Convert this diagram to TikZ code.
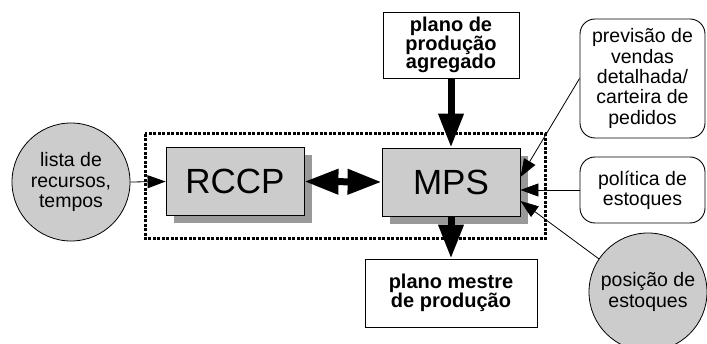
\documentclass[tikz,border=0pt]{standalone}
\usepackage{fontspec}
\setmainfont{Liberation Sans}
\usetikzlibrary{arrows.meta,shadows}
\definecolor{boxgray}{HTML}{CCCCCC}
\definecolor{shadgray}{HTML}{999999}
\tikzset{
  txt/.style={align=center,font=\fontsize{19.5}{20.3}\selectfont,inner sep=0pt},
  btxt/.style={align=center,font=\fontsize{20}{18.8}\selectfont\bfseries,inner sep=0pt},
  greycirc/.style={circle,draw,line width=0.8pt,fill=boxgray,minimum size=118pt,txt},
  procbox/.style={rectangle,draw,line width=0.9pt,fill=boxgray,minimum width=138pt,minimum height=68pt,
    inner sep=0pt,font=\fontsize{35}{36}\selectfont,
    drop shadow={shadow xshift=8pt,shadow yshift=-8pt,fill=shadgray,opacity=1}},
  plainbox/.style={rectangle,draw,line width=0.9pt,fill=white,btxt},
  roundbox/.style={rectangle,rounded corners=15pt,draw,line width=0.9pt,fill=white,txt},
  thinarrow/.style={line width=0.8pt,-{Triangle[length=18pt,width=13pt]}},
  thickarrow/.style={line width=7pt,-{Triangle[length=34pt,width=24pt]}},
  dblarrow/.style={line width=7pt,{Triangle[length=34pt,width=24pt]}-{Triangle[length=34pt,width=24pt]}},
  frame/.style={line width=3pt,dash pattern=on 3pt off 1.5pt},
}
\begin{document}
\begin{tikzpicture}[x=1pt,y=-1pt]
\useasboundingbox (0,0) rectangle (707,344);
\clip (0,0) rectangle (707,344);
% frame
\draw[frame] (145,134) rectangle (545,239);
% process boxes
\node[procbox] (rccp) at (235,181.5) {RCCP};
\node[procbox] (mps) at (451,182) {MPS};
% inputs / outputs
\node[greycirc] (lista) at (71,182) {lista de\\recursos,\\tempos};
\node[plainbox,minimum width=136pt,minimum height=66pt] (agreg) at (451,45) {plano de\\produção\\agregado};
\node[plainbox,minimum width=172pt,minimum height=68pt] (mestre) at (451,293) {plano mestre\\de produção};
\node[roundbox,minimum width=125pt,minimum height=119pt] (prev) at (642.5,78.5) {previsão de\\vendas\\detalhada/\\carteira de\\pedidos};
\node[roundbox,minimum width=125pt,minimum height=66pt] (pol) at (642.5,190) {política de\\estoques};
\node[greycirc] (pos) at (648,292) {posição de\\estoques};
% connectors
\draw[thinarrow] (lista.east) -- (rccp.west);
\draw[dblarrow] (rccp.east) -- (mps.west);
\draw[thickarrow] (agreg.south) -- (mps.north);
\draw[thickarrow] (mps.south) -- (mestre.north);
\draw[thinarrow] (prev.west) -- ([yshift=5pt]mps.east);
\draw[thinarrow] (pol.west) -- ([yshift=-8pt]mps.east);
\draw[thinarrow] (pos.146) -- ([yshift=-19pt]mps.east);
\end{tikzpicture}
\end{document}
